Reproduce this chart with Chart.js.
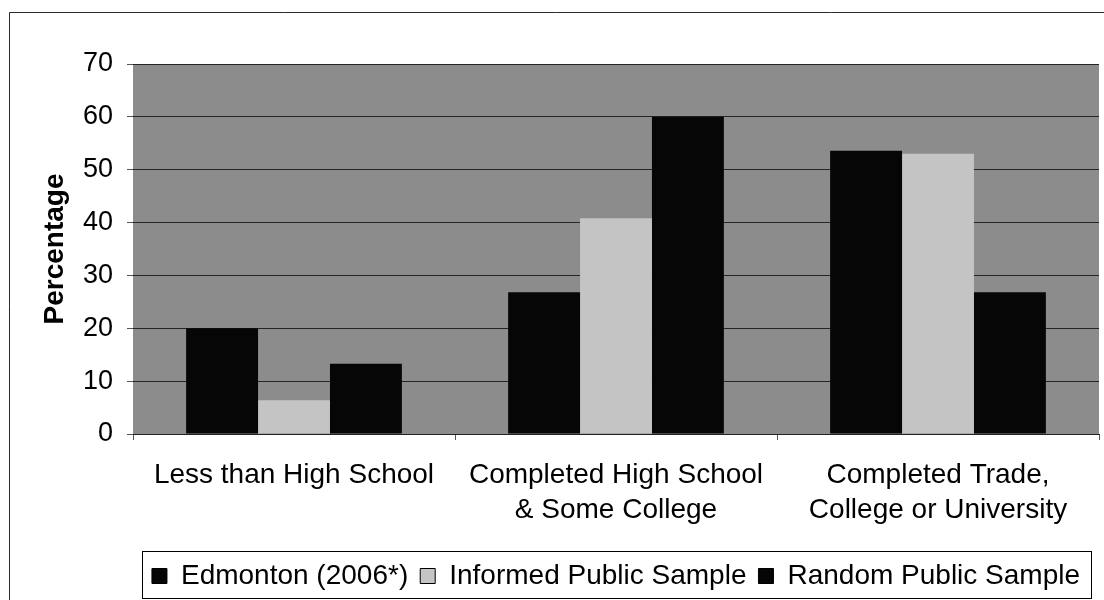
<!DOCTYPE html>
<html>
<head>
<meta charset="utf-8">
<title>Education Level</title>
<script src="https://cdn.jsdelivr.net/npm/chart.js@4/dist/chart.umd.min.js"></script>
<style>
  html, body { margin: 0; padding: 0; background: #ffffff; }
  canvas { display: block; }
</style>
</head>
<body>
<canvas id="chart" width="1104" height="600"></canvas>
<script>
// Education level categories (multi-line labels)
const categories = [
  ['Less than High School'],
  ['Completed High School', '& Some College'],
  ['Completed Trade,', 'College or University']
];

// Percentages per series
const edmontonValues = [20, 26.8, 53.6];
const informedValues = [6.4, 40.8, 53.0];
const randomValues = [13.3, 60, 26.8];

const seriesNames = ['Edmonton (2006*)', 'Informed Public Sample', 'Random Public Sample'];

// Y axis range and step
const yMin = 0;
const yMax = 70;
const yStep = 10;

const FONT = "'Liberation Sans', Arial, sans-serif";

// Grey plot-area fill, outer frame and legend frame
const decorPlugin = {
  id: 'decor',
  afterLayout(chart) {
    // centre the legend under the plot area
    const lg = chart.legend;
    const ca = chart.chartArea;
    if (lg) {
      const dx = (ca.left + ca.right) / 2 - (lg.left + lg.right) / 2;
      lg.left += dx;
      lg.right += dx;
    }
  },
  beforeDraw(chart) {
    const { ctx, chartArea: ca } = chart;
    ctx.save();
    ctx.fillStyle = '#ffffff';
    ctx.fillRect(0, 0, chart.width, chart.height);
    ctx.fillStyle = '#8c8c8c';
    ctx.fillRect(ca.left, ca.top, ca.right - ca.left, ca.bottom - ca.top);
    ctx.restore();
  },
  afterDraw(chart) {
    const { ctx } = chart;
    ctx.save();
    // outer frame
    ctx.strokeStyle = '#2a2a2a';
    ctx.lineWidth = 1;
    ctx.beginPath();
    ctx.moveTo(9.5, chart.height);
    ctx.lineTo(9.5, 12.5);
    ctx.lineTo(chart.width, 12.5);
    ctx.stroke();
    // legend frame
    const lg = chart.legend;
    if (lg && lg.legendHitBoxes && lg.legendHitBoxes.length) {
      const hb = lg.legendHitBoxes;
      const x0 = hb[0].left - 10;
      const last = hb[hb.length - 1];
      const x1 = last.left + last.width + 11;
      ctx.strokeStyle = '#000000';
      ctx.strokeRect(Math.round(x0) + 0.5, Math.round(lg.top) + 1.5,
        Math.round(x1 - x0), Math.round(lg.bottom - lg.top) - 3);
    }
    ctx.restore();
  }
};

new Chart(document.getElementById('chart'), {
  type: 'bar',
  data: {
    labels: categories,
    datasets: [
      { label: seriesNames[0], data: edmontonValues, backgroundColor: '#060606', borderWidth: 0 },
      { label: seriesNames[1], data: informedValues, backgroundColor: '#c4c4c4', borderWidth: 0 },
      { label: seriesNames[2], data: randomValues, backgroundColor: '#060606', borderWidth: 0 }
    ]
  },
  options: {
    responsive: false,
    animation: false,
    devicePixelRatio: 1,
    layout: { padding: { left: 20, top: 64, right: 5, bottom: 0 } },
    datasets: {
      bar: { categoryPercentage: 0.67, barPercentage: 1.0 }
    },
    plugins: {
      tooltip: { enabled: false },
      title: { display: false },
      legend: {
        position: 'bottom',
        labels: {
          color: '#000000',
          font: { family: FONT, size: 28 },
          boxWidth: 15,
          boxHeight: 15,
          padding: 12,
          generateLabels(chart) {
            const items = Chart.defaults.plugins.legend.labels.generateLabels(chart);
            items.forEach(it => { it.lineWidth = 1; it.strokeStyle = '#000000'; });
            return items;
          }
        }
      }
    },
    scales: {
      x: {
        afterFit(scale) { scale.height = 116; },
        grid: {
          display: true,
          drawOnChartArea: false,
          drawTicks: true,
          tickLength: 6,
          color: '#555555'
        },
        border: { display: true, color: '#222222', width: 1 },
        ticks: {
          color: '#000000',
          font: { family: FONT, size: 28, lineHeight: 1.25 },
          padding: 18,
          maxRotation: 0,
          autoSkip: false
        }
      },
      y: {
        min: yMin,
        max: yMax,
        afterFit(scale) { scale.width = 113; },
        grid: {
          color: '#262626',
          lineWidth: 1,
          drawTicks: true,
          tickLength: 6,
          tickColor: '#555555'
        },
        border: { display: false },
        ticks: {
          stepSize: yStep,
          color: '#000000',
          font: { family: FONT, size: 27 },
          padding: 14
        },
        title: {
          display: true,
          text: 'Percentage',
          color: '#000000',
          font: { family: FONT, size: 28, weight: 'bold', lineHeight: 1.2 },
          padding: { top: 18, bottom: 0 }
        }
      }
    }
  },
  plugins: [decorPlugin]
});
</script>
</body>
</html>
